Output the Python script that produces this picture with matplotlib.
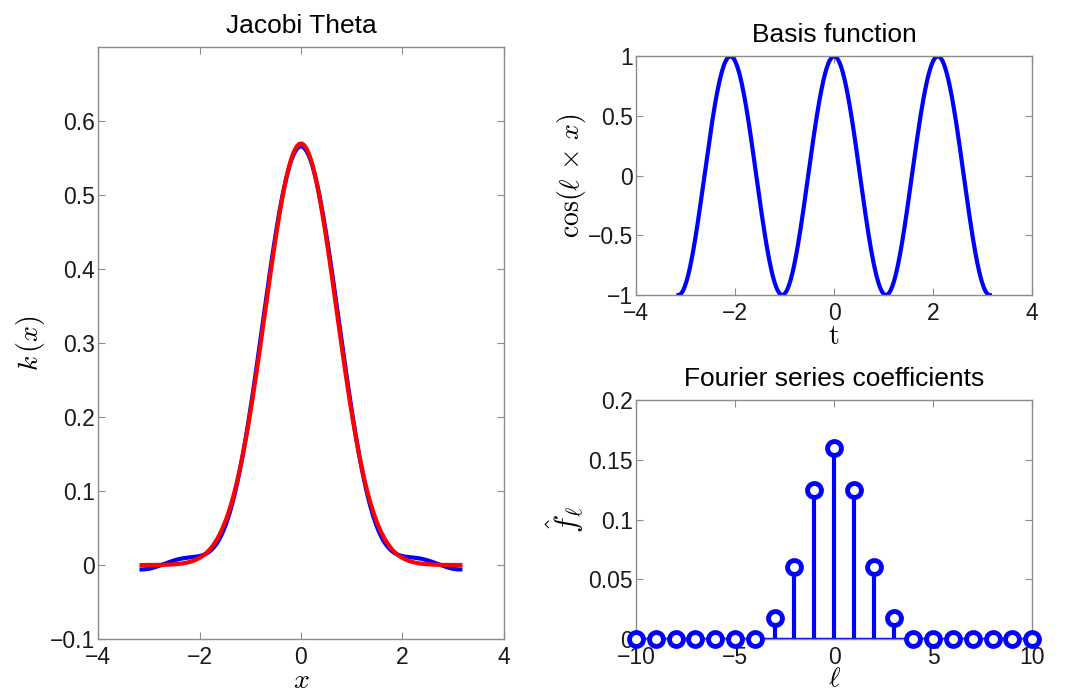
import numpy as np
import matplotlib
matplotlib.use('Agg')
import matplotlib.pyplot as plt
from matplotlib.ticker import FuncFormatter

# Fourier series coefficients
ell = np.arange(-10, 11)
fhat = np.array([0, 0, 0, 0, 0, 0, 0, 0.018, 0.060, 0.125, 0.160,
                 0.125, 0.060, 0.018, 0, 0, 0, 0, 0, 0, 0])

# width of the red (exact) kernel, read from its peak height ~0.57
sigma = 0.70
# frequency of the basis function shown
basis_ell = 3

plt.rcParams['font.family'] = ['Liberation Sans', 'DejaVu Sans']
plt.rcParams['mathtext.fontset'] = 'cm'
plt.rcParams['axes.unicode_minus'] = True

x = np.linspace(-np.pi, np.pi, 600)
k_approx = (fhat[:, None] * np.cos(ell[:, None] * x[None, :])).sum(axis=0)
k_exact = np.exp(-x ** 2 / (2 * sigma ** 2)) / (sigma * np.sqrt(2 * np.pi))
basis = np.cos(basis_ell * x)

fmt = FuncFormatter(lambda v, p: ('%g' % round(v, 4)).replace('-', '\u2212'))

fig = plt.figure(figsize=(10.68, 6.92), dpi=100)
ax1 = fig.add_axes([0.0918, 0.0766, 0.380, 0.855])
ax2 = fig.add_axes([0.5955, 0.5737, 0.371, 0.345])
ax3 = fig.add_axes([0.5955, 0.0766, 0.371, 0.345])


def style(ax):
    for s in ax.spines.values():
        s.set_color('#8c8c8c')
        s.set_linewidth(1.0)
    ax.tick_params(direction='in', top=True, right=True, length=5,
                   width=0.8, color='#8c8c8c', labelsize=16.5,
                   labelcolor='#1a1a1a')
    ax.tick_params(axis='x', pad=5)
    ax.tick_params(axis='y', pad=2)
    ax.xaxis.set_major_formatter(fmt)
    ax.yaxis.set_major_formatter(fmt)


# left: kernel and its truncated series
ax1.plot(x, k_approx, color='#0000ff', lw=3)
ax1.plot(x, k_exact, color='#ff0000', lw=3)
ax1.set_xlim(-4, 4)
ax1.set_ylim(-0.1, 0.7)
ax1.set_xticks(np.arange(-4, 5, 2))
ax1.set_yticks(np.arange(-0.1, 0.61, 0.1))
style(ax1)
ax1.set_title('Jacobi Theta', fontsize=19, pad=10)
ax1.set_xlabel(r'$x$', fontsize=20, labelpad=-1)
ax1.set_ylabel(r'$k\,(x)$', fontsize=20, labelpad=2)

# top right: basis function
ax2.plot(x, basis, color='#0000ff', lw=3)
ax2.set_xlim(-4, 4)
ax2.set_ylim(-1, 1)
ax2.set_xticks(np.arange(-4, 5, 2))
ax2.set_yticks([-1, -0.5, 0, 0.5, 1])
style(ax2)
ax2.set_title('Basis function', fontsize=19, pad=10)
ax2.set_xlabel(r'$\mathrm{t}$', fontsize=20, labelpad=-1)
ax2.set_ylabel(r'$\cos(\ell\, \times\, x)$', fontsize=20, labelpad=0)

# bottom right: coefficients as stems
ax3.plot([-10, 10], [0, 0], color='#0000ff', lw=2.5, zorder=2)
ax3.vlines(ell, 0, fhat, color='#0000ff', lw=3, zorder=2)
ax3.plot(ell, fhat, 'o', ms=10, mfc='white', mec='#0000ff', mew=3.5,
         clip_on=False, zorder=3)
ax3.set_xlim(-10, 10)
ax3.set_ylim(0, 0.2)
ax3.set_xticks([-10, -5, 0, 5, 10])
ax3.set_yticks([0, 0.05, 0.1, 0.15, 0.2])
style(ax3)
ax3.set_title('Fourier series coefficients', fontsize=19, pad=10)
ax3.set_xlabel(r'$\ell$', fontsize=20, labelpad=-2)
ax3.set_ylabel(r'$\hat{f}_\ell$', fontsize=22, labelpad=2)

plt.savefig('out.png', dpi=100)
plt.close()
